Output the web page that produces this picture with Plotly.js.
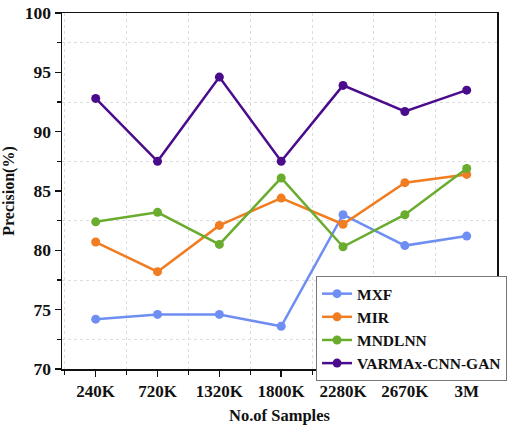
<!DOCTYPE html>
<html>
<head>
<meta charset="utf-8">
<script src="https://cdn.plot.ly/plotly-3.0.1.min.js"></script>
<style>html,body{margin:0;padding:0;background:#fff;}#chart{width:510px;height:425px;}</style>
</head>
<body>
<div id="chart"></div>
<script>
var categories = ["240K", "720K", "1320K", "1800K", "2280K", "2670K", "3M"];
var mxf = [74.2, 74.6, 74.6, 73.6, 83.0, 80.4, 81.2];
var mir = [80.7, 78.2, 82.1, 84.4, 82.2, 85.7, 86.4];
var mndlnn = [82.4, 83.2, 80.5, 86.1, 80.3, 83.0, 86.9];
var varmax = [92.8, 87.5, 94.6, 87.5, 93.9, 91.7, 93.5];
var seriesNames = ["MXF", "MIR", "MNDLNN", "VARMAx-CNN-GAN"];
var colors = ["#6f8ef2", "#f07d22", "#6aac2e", "#4a0c8c"];
var xIdx = categories.map(function(c, i){ return i; });
var data = [mxf, mir, mndlnn, varmax].map(function(v, i){
  return {
    x: xIdx, y: v, name: seriesNames[i], type: "scatter", mode: "lines+markers",
    line: {color: colors[i], width: 2.5},
    marker: {color: colors[i], size: 9}
  };
});
var font = {family: "Liberation Serif, Times New Roman, serif", size: 16, color: "#111"};
var layout = {
  width: 510, height: 425,
  margin: {l: 62, r: 3, t: 13, b: 56},
  paper_bgcolor: "#fff", plot_bgcolor: "#fff",
  font: font,
  showlegend: true,
  legend: {
    x: 0.584, y: 0.261, xanchor: "left", yanchor: "top",
    bgcolor: "#fff", bordercolor: "#777", borderwidth: 1,
    font: {family: font.family, size: 15.5, color: "#111", weight: "bold"},
    tracegroupgap: 0, itemwidth: 30
  },
  xaxis: {
    range: [-0.545, 6.49],
    tickmode: "array", tickvals: xIdx, ticktext: categories,
    showgrid: false, zeroline: false,
    showline: true, linecolor: "#111", linewidth: 1.5, mirror: true,
    ticks: "outside", ticklen: 6, tickwidth: 1.5, tickcolor: "#111",
    tickfont: {family: font.family, size: 17, color: "#111", weight: "bold"},
    minor: {tick0: 0.5, dtick: 1, ticks: "outside", ticklen: 4, tickwidth: 1.2, tickcolor: "#111",
            showgrid: true, gridcolor: "#dddddd", gridwidth: 1, griddash: "dot"},
    title: {text: "No.of Samples", font: {family: font.family, size: 16.5, color: "#111", weight: "bold"}, standoff: 10}
  },
  yaxis: {
    range: [70, 100], dtick: 5, tick0: 70,
    showgrid: false, zeroline: false,
    showline: true, linecolor: "#111", linewidth: 1.5, mirror: true,
    ticks: "outside", ticklen: 6, tickwidth: 1.5, tickcolor: "#111",
    tickfont: {family: font.family, size: 17.5, color: "#111", weight: "bold"},
    minor: {tick0: 72.5, dtick: 5, ticks: "outside", ticklen: 4, tickwidth: 1.2, tickcolor: "#111",
            showgrid: true, gridcolor: "#dddddd", gridwidth: 1, griddash: "dot"},
    title: {text: "Precision(%)", font: {family: font.family, size: 16, color: "#111", weight: "bold"}, standoff: 8}
  }
};
Plotly.newPlot("chart", data, layout, {displayModeBar: false, staticPlot: true});
</script>
</body>
</html>
